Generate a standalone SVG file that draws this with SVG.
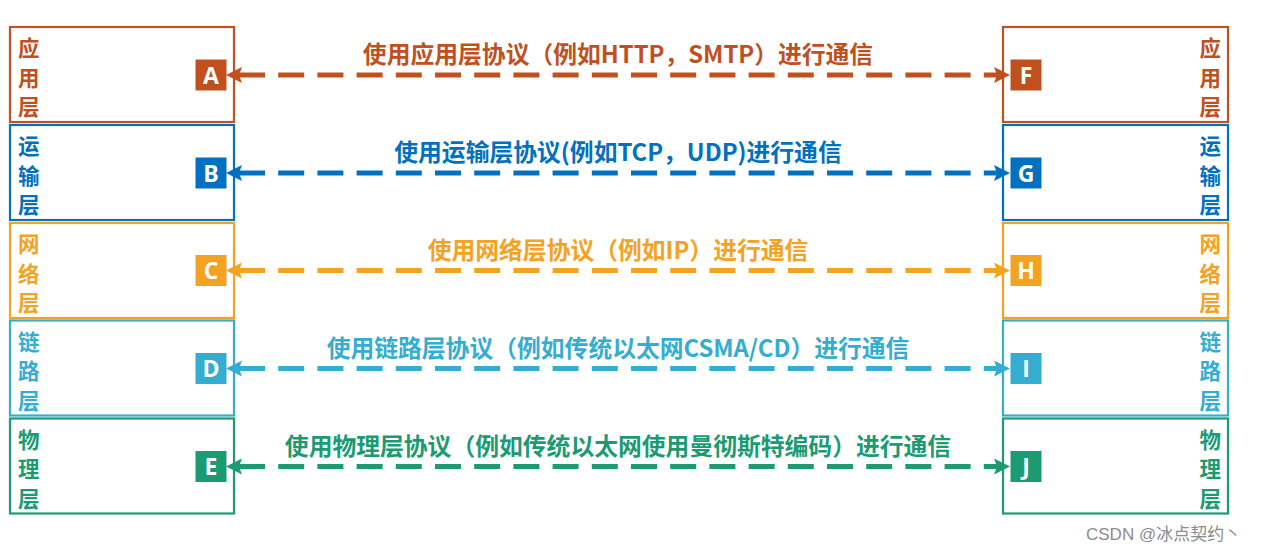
<svg xmlns="http://www.w3.org/2000/svg" width="1265" height="553" viewBox="0 0 1265 553">
<style>
.box{fill:#fff;stroke-width:2.2}
.lay{font-family:"Noto Sans CJK SC","Microsoft YaHei",sans-serif;font-weight:bold;font-size:21.5px}
.r{text-anchor:end}
.sq{stroke:none}
.let{font-family:"Open Sans","Liberation Sans",sans-serif;font-weight:bold;font-size:23px;fill:#fff;text-anchor:middle}
.lbl{font-family:"Noto Sans CJK SC","Microsoft YaHei",sans-serif;font-weight:bold;font-size:23.8px;text-anchor:middle}
.ln{fill:none;stroke-width:5;stroke-dasharray:26 13.2}
.c1{fill:#C0501E;stroke:#C0501E}
.c2{fill:#0070C0;stroke:#0070C0}
.c3{fill:#F4A223;stroke:#F4A223}
.c4{fill:#35ADD0;stroke:#35ADD0}
.c5{fill:#1C9B73;stroke:#1C9B73}
.t1{fill:#C0501E}.t2{fill:#0070C0}.t3{fill:#F4A223}.t4{fill:#35ADD0}.t5{fill:#1C9B73}
.s1{stroke:#C0501E}.s2{stroke:#0070C0}.s3{stroke:#F4A223}.s4{stroke:#35ADD0}.s5{stroke:#1C9B73}
</style>
<defs>
<marker id="m1" markerUnits="userSpaceOnUse" markerWidth="18" markerHeight="18" viewBox="0 0 18 18" refX="3" refY="8" orient="auto-start-reverse"><path d="M0,0 L16,8 L0,16 L3,8 Z" fill="#C0501E"/></marker>
<marker id="m2" markerUnits="userSpaceOnUse" markerWidth="18" markerHeight="18" viewBox="0 0 18 18" refX="3" refY="8" orient="auto-start-reverse"><path d="M0,0 L16,8 L0,16 L3,8 Z" fill="#0070C0"/></marker>
<marker id="m3" markerUnits="userSpaceOnUse" markerWidth="18" markerHeight="18" viewBox="0 0 18 18" refX="3" refY="8" orient="auto-start-reverse"><path d="M0,0 L16,8 L0,16 L3,8 Z" fill="#F4A223"/></marker>
<marker id="m4" markerUnits="userSpaceOnUse" markerWidth="18" markerHeight="18" viewBox="0 0 18 18" refX="3" refY="8" orient="auto-start-reverse"><path d="M0,0 L16,8 L0,16 L3,8 Z" fill="#35ADD0"/></marker>
<marker id="m5" markerUnits="userSpaceOnUse" markerWidth="18" markerHeight="18" viewBox="0 0 18 18" refX="3" refY="8" orient="auto-start-reverse"><path d="M0,0 L16,8 L0,16 L3,8 Z" fill="#1C9B73"/></marker>
</defs>
<rect width="1265" height="553" fill="#fff"/>

<!-- left stack -->
<g id="left-app">
<rect class="box s1" x="10" y="27" width="224" height="95"/>
<text class="lay t1" x="18" y="56">应</text><text class="lay t1" x="18" y="85.5">用</text><text class="lay t1" x="18" y="115">层</text>
</g>
<g id="left-transport">
<rect class="box s2" x="10" y="125" width="224" height="95"/>
<text class="lay t2" x="18" y="154">运</text><text class="lay t2" x="18" y="183.5">输</text><text class="lay t2" x="18" y="213">层</text>
</g>
<g id="left-network">
<rect class="box s3" x="10" y="223" width="224" height="95"/>
<text class="lay t3" x="18" y="252">网</text><text class="lay t3" x="18" y="281.5">络</text><text class="lay t3" x="18" y="311">层</text>
</g>
<g id="left-link">
<rect class="box s4" x="10" y="320.5" width="224" height="95"/>
<text class="lay t4" x="18" y="349.5">链</text><text class="lay t4" x="18" y="379">路</text><text class="lay t4" x="18" y="408.5">层</text>
</g>
<g id="left-physical">
<rect class="box s5" x="10" y="418.5" width="224" height="95"/>
<text class="lay t5" x="18" y="447.5">物</text><text class="lay t5" x="18" y="477">理</text><text class="lay t5" x="18" y="506.5">层</text>
</g>

<!-- right stack -->
<g id="right-app">
<rect class="box s1" x="1003" y="27" width="225" height="95"/>
<text class="lay t1 r" x="1221" y="56">应</text><text class="lay t1 r" x="1221" y="85.5">用</text><text class="lay t1 r" x="1221" y="115">层</text>
</g>
<g id="right-transport">
<rect class="box s2" x="1003" y="125" width="225" height="95"/>
<text class="lay t2 r" x="1221" y="154">运</text><text class="lay t2 r" x="1221" y="183.5">输</text><text class="lay t2 r" x="1221" y="213">层</text>
</g>
<g id="right-network">
<rect class="box s3" x="1003" y="223" width="225" height="95"/>
<text class="lay t3 r" x="1221" y="252">网</text><text class="lay t3 r" x="1221" y="281.5">络</text><text class="lay t3 r" x="1221" y="311">层</text>
</g>
<g id="right-link">
<rect class="box s4" x="1003" y="320.5" width="225" height="95"/>
<text class="lay t4 r" x="1221" y="349.5">链</text><text class="lay t4 r" x="1221" y="379">路</text><text class="lay t4 r" x="1221" y="408.5">层</text>
</g>
<g id="right-physical">
<rect class="box s5" x="1003" y="418.5" width="225" height="95"/>
<text class="lay t5 r" x="1221" y="447.5">物</text><text class="lay t5 r" x="1221" y="477">理</text><text class="lay t5 r" x="1221" y="506.5">层</text>
</g>

<!-- letter nodes -->
<g id="node-A"><rect class="sq c1" x="196" y="60" width="30" height="30"/><text class="let" x="211" y="83.5">A</text></g>
<g id="node-B"><rect class="sq c2" x="196" y="158" width="30" height="30"/><text class="let" x="211" y="181.5">B</text></g>
<g id="node-C"><rect class="sq c3" x="196" y="255.5" width="30" height="30"/><text class="let" x="211" y="279">C</text></g>
<g id="node-D"><rect class="sq c4" x="196" y="353.5" width="30" height="30"/><text class="let" x="211" y="377">D</text></g>
<g id="node-E"><rect class="sq c5" x="196" y="451.5" width="30" height="30"/><text class="let" x="211" y="475">E</text></g>
<g id="node-F"><rect class="sq c1" x="1011" y="60" width="30" height="30"/><text class="let" x="1026" y="83.5">F</text></g>
<g id="node-G"><rect class="sq c2" x="1011" y="158" width="30" height="30"/><text class="let" x="1026" y="181.5">G</text></g>
<g id="node-H"><rect class="sq c3" x="1011" y="255.5" width="30" height="30"/><text class="let" x="1026" y="279">H</text></g>
<g id="node-I"><rect class="sq c4" x="1011" y="353.5" width="30" height="30"/><text class="let" x="1026" y="377">I</text></g>
<g id="node-J"><rect class="sq c5" x="1011" y="451.5" width="30" height="30"/><text class="let" x="1026" y="475">J</text></g>

<!-- connectors -->
<g id="connectors">
<path class="ln s1" d="M239,75 H997" marker-start="url(#m1)" marker-end="url(#m1)"/>
<path class="ln s2" d="M239,173 H997" marker-start="url(#m2)" marker-end="url(#m2)"/>
<path class="ln s3" d="M239,270.5 H997" marker-start="url(#m3)" marker-end="url(#m3)"/>
<path class="ln s4" d="M239,368.5 H997" marker-start="url(#m4)" marker-end="url(#m4)"/>
<path class="ln s5" d="M239,466.5 H997" marker-start="url(#m5)" marker-end="url(#m5)"/>
<text class="lbl t1" x="618" y="63">使用应用层协议（例如HTTP，SMTP）进行通信</text>
<text class="lbl t2" x="618" y="161">使用运输层协议(例如TCP，UDP)进行通信</text>
<text class="lbl t3" x="618" y="258.5">使用网络层协议（例如IP）进行通信</text>
<text class="lbl t4" x="618" y="356.5">使用链路层协议（例如传统以太网CSMA/CD）进行通信</text>
<text class="lbl t5" x="618" y="454.5">使用物理层协议（例如传统以太网使用曼彻斯特编码）进行通信</text>
</g>

<text x="1086" y="540" font-family="'Liberation Sans','Noto Sans CJK SC',sans-serif" font-size="17" fill="#8c8c8c">CSDN @冰点契约丶</text>
</svg>
